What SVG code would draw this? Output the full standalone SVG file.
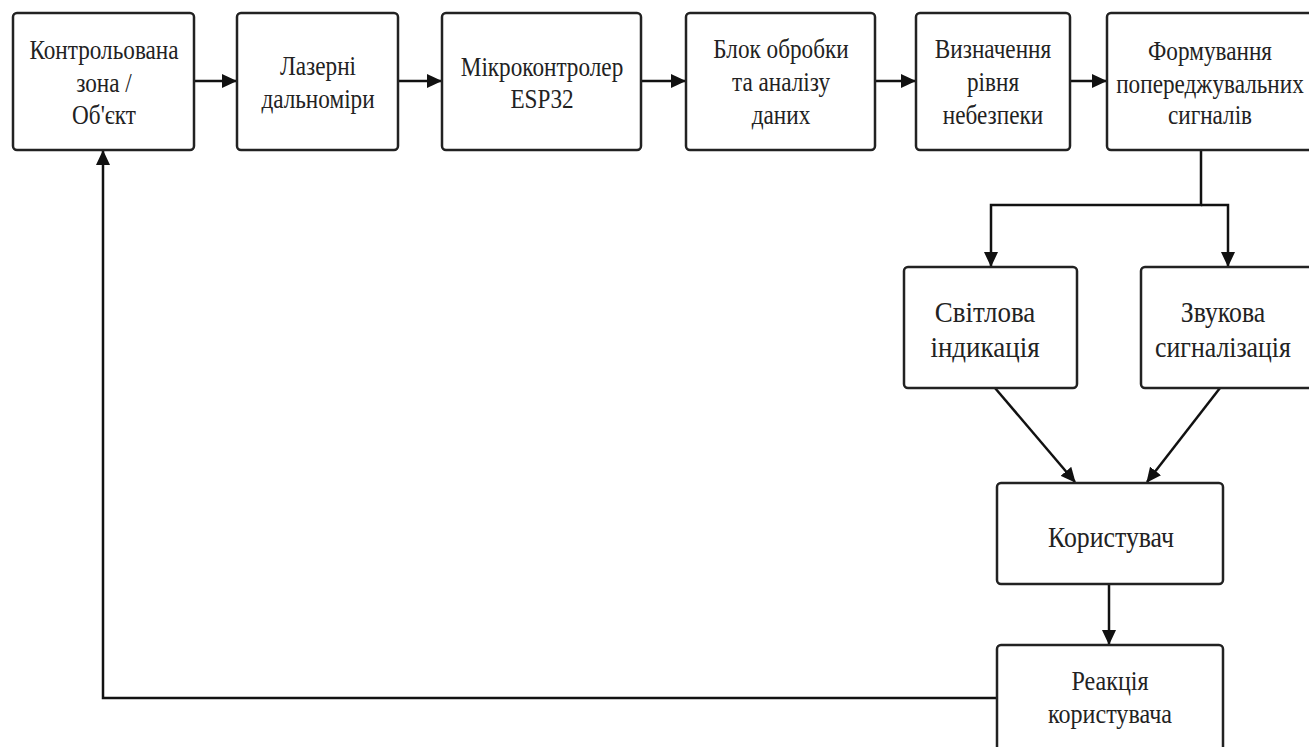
<svg xmlns="http://www.w3.org/2000/svg" width="1309" height="747" viewBox="0 0 1309 747">
  <defs>
    <marker id="arrow" markerUnits="userSpaceOnUse" markerWidth="15" markerHeight="14" refX="14" refY="7" orient="auto">
      <path d="M0,0 L15,7 L0,14 z" fill="#111"/>
    </marker>
    <style>
      .box { fill: #fff; stroke: #222; stroke-width: 2.5; }
      .lbl { font-family: "Liberation Serif", "Times New Roman", serif; font-size: 27px; fill: #222; text-anchor: middle; }
      .mid { font-size: 28px; }
      .big { font-size: 30px; }
      .wire { fill: none; stroke: #111; stroke-width: 2.5; }
      .arr { marker-end: url(#arrow); }
    </style>
  </defs>
  <rect width="1309" height="747" fill="#fff"/>

  <!-- connectors -->
  <g id="connectors">
    <path class="wire arr" d="M194,81 H236"/>
    <path class="wire arr" d="M398,81 H441"/>
    <path class="wire arr" d="M641,81 H685"/>
    <path class="wire arr" d="M875,81 H915"/>
    <path class="wire arr" d="M1070,81 H1106"/>
    <path class="wire arr" d="M1201,150 V205 H991 V266"/>
    <path class="wire arr" d="M1201,205 H1228 V266"/>
    <path class="wire arr" d="M995,388 L1075,482"/>
    <path class="wire arr" d="M1220,388 L1147,482"/>
    <path class="wire arr" d="M1109,584 V644"/>
    <path class="wire arr" d="M997,698 H103 V151"/>
  </g>

  <!-- nodes: labels are set in a narrowed serif (x scaled about the box centre) -->
  <g id="zone">
    <rect class="box" x="13" y="13" width="181" height="137" rx="4"/>
    <g transform="translate(104 0) scale(0.86 1)">
      <text class="lbl" x="0" y="59">Контрольована</text>
      <text class="lbl" x="0" y="92">зона /</text>
      <text class="lbl" x="0" y="124">Об'єкт</text>
    </g>
  </g>
  <g id="rangefinders">
    <rect class="box" x="237" y="13" width="161" height="137" rx="4"/>
    <g transform="translate(318 0) scale(0.86 1)">
      <text class="lbl" x="0" y="75">Лазерні</text>
      <text class="lbl" x="0" y="108">дальноміри</text>
    </g>
  </g>
  <g id="mcu">
    <rect class="box" x="442" y="13" width="199" height="137" rx="4"/>
    <g transform="translate(542 0) scale(0.86 1)">
      <text class="lbl" x="0" y="76">Мікроконтролер</text>
      <text class="lbl" x="0" y="108">ESP32</text>
    </g>
  </g>
  <g id="processing">
    <rect class="box" x="686" y="13" width="189" height="137" rx="4"/>
    <g transform="translate(781 0) scale(0.86 1)">
      <text class="lbl" x="0" y="58">Блок обробки</text>
      <text class="lbl" x="0" y="91">та аналізу</text>
      <text class="lbl" x="0" y="124">даних</text>
    </g>
  </g>
  <g id="danger">
    <rect class="box" x="916" y="13" width="154" height="137" rx="4"/>
    <g transform="translate(993 0) scale(0.86 1)">
      <text class="lbl" x="0" y="58">Визначення</text>
      <text class="lbl" x="0" y="91">рівня</text>
      <text class="lbl" x="0" y="124">небезпеки</text>
    </g>
  </g>
  <g id="signals">
    <rect class="box" x="1107" y="13" width="206" height="137" rx="4"/>
    <g transform="translate(1210 0) scale(0.86 1)">
      <text class="lbl" x="0" y="60">Формування</text>
      <text class="lbl" x="0" y="93">попереджувальних</text>
      <text class="lbl" x="0" y="124">сигналів</text>
    </g>
  </g>
  <g id="light">
    <rect class="box" x="904" y="267" width="173" height="121" rx="4"/>
    <g transform="translate(985 0) scale(0.9 1)">
      <text class="lbl big" x="0" y="322">Світлова</text>
      <text class="lbl big" x="0" y="357">індикація</text>
    </g>
  </g>
  <g id="sound">
    <rect class="box" x="1141" y="267" width="172" height="121" rx="4"/>
    <g transform="translate(1223 0) scale(0.86 1)">
      <text class="lbl big" x="0" y="322">Звукова</text>
      <text class="lbl big" x="0" y="357">сигналізація</text>
    </g>
  </g>
  <g id="user">
    <rect class="box" x="997" y="483" width="226" height="101" rx="4"/>
    <g transform="translate(1111 0) scale(0.86 1)">
      <text class="lbl big" x="0" y="547">Користувач</text>
    </g>
  </g>
  <g id="reaction">
    <rect class="box" x="997" y="645" width="226" height="120" rx="4"/>
    <g transform="translate(1110 0) scale(0.86 1)">
      <text class="lbl mid" x="0" y="690">Реакція</text>
      <text class="lbl mid" x="0" y="723">користувача</text>
    </g>
  </g>
</svg>
